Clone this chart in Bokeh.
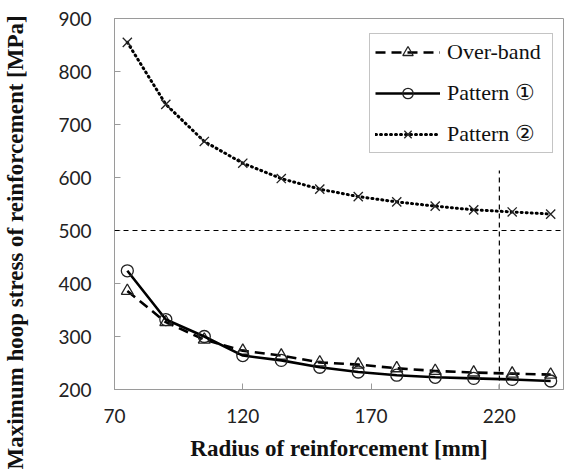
from bokeh.plotting import figure
from bokeh.models import Span, Legend, LegendItem, Title, Range1d, FixedTicker
from bokeh.embed import file_html
from bokeh.resources import INLINE

radius = [75, 90, 105, 120, 135, 150, 165, 180, 195, 210, 225, 240]
over_band = [386, 327, 294, 273, 264, 251, 247, 240, 235, 232, 230, 228]
pattern1 = [424, 332, 300, 264, 255, 242, 233, 227, 223, 221, 219, 216]
pattern2 = [855, 738, 668, 627, 598, 578, 564, 554, 546, 539, 535, 531]

x_ticks = [70, 120, 170, 220]
y_ticks = [200, 300, 400, 500, 600, 700, 800, 900]
limit_stress = 500
limit_radius = 220
limit_radius_top = 613

p = figure(width=564, height=474, output_backend="svg", toolbar_location=None,
           x_range=Range1d(70, 245), y_range=Range1d(200, 900),
           min_border_left=110, min_border_right=1, min_border_top=18, min_border_bottom=85)
p.grid.visible = False
p.outline_line_color = "#9a9a9a"
p.outline_line_width = 1
p.background_fill_color = "white"
p.border_fill_color = "white"

for ax in (p.xaxis[0], p.yaxis[0]):
    ax.axis_line_color = "#9a9a9a"
    ax.major_tick_line_color = "#9a9a9a"
    ax.major_tick_in = 6
    ax.major_tick_out = 0
    ax.minor_tick_line_color = None
    ax.major_label_text_font = "Lato"
    ax.major_label_text_font_size = "19px"
    ax.major_label_text_color = "#222222"

p.xaxis.ticker = FixedTicker(ticks=x_ticks)
p.yaxis.ticker = FixedTicker(ticks=y_ticks)
p.xaxis.major_label_standoff = 19
p.yaxis.major_label_standoff = 23
p.xaxis.axis_label = "Radius of reinforcement [mm]"
p.xaxis.axis_label_text_font = "Liberation Serif"
p.xaxis.axis_label_text_font_style = "bold"
p.xaxis.axis_label_text_font_size = "23px"
p.xaxis.axis_label_text_color = "#111111"
p.xaxis.axis_label_standoff = 10

# spacer label so that the y title sits at the outer edge
p.yaxis.axis_label = "\u00a0"
p.yaxis.axis_label_text_font_size = "2px"
p.yaxis.axis_label_standoff = 23

p.add_layout(Title(text="Maximum  hoop stress of reinforcement [MPa]", align="left",
                   offset=-80, standoff=0, vertical_align="bottom",
                   text_font="Liberation Serif", text_font_style="bold",
                   text_font_size="23px", text_color="#111111"), "left")

# reference lines
p.add_layout(Span(location=limit_stress, dimension="width", line_color="black",
                  line_width=1.2, line_dash="5 4"))
p.segment(x0=[limit_radius], y0=[200], x1=[limit_radius], y1=[limit_radius_top],
          line_color="black", line_width=1.2, line_dash="5 4")

lw = 2.6
r_ob_line = p.line(radius, over_band, line_color="black", line_width=lw, line_dash="10 6")
r_ob_mk = p.scatter(radius, over_band, marker="triangle", size=12, fill_color=None,
                    line_color="#222222", line_width=1.3)
r_p1_line = p.line(radius, pattern1, line_color="black", line_width=lw)
r_p1_mk = p.scatter(radius, pattern1, marker="circle", size=12, fill_color=None,
                    line_color="#222222", line_width=1.3)
r_p2_line = p.line(radius, pattern2, line_color="black", line_width=lw + 0.4,
                   line_dash="1 4", line_cap="round")
r_p2_mk = p.scatter(radius, pattern2, marker="x", size=13,
                    line_color="#222222", line_width=1.3)

legend = Legend(items=[
    LegendItem(label="Over-band", renderers=[r_ob_line, r_ob_mk]),
    LegendItem(label="Pattern \u2460", renderers=[r_p1_line, r_p1_mk]),
    LegendItem(label="Pattern \u2461", renderers=[r_p2_line, r_p2_mk]),
], location=(255, 236))
legend.label_text_font = "Liberation Serif"
legend.label_text_font_size = "22px"
legend.label_text_color = "#111111"
legend.glyph_width = 65
legend.glyph_height = 26
legend.label_height = 26
legend.label_width = 100
legend.label_standoff = 7
legend.spacing = 15
legend.padding = 5
legend.margin = 0
legend.border_line_color = "#8a8a8a"
legend.border_line_width = 1
legend.background_fill_color = "white"
legend.background_fill_alpha = 1
p.add_layout(legend, "center")

open("out.html", "w").write(file_html(p, INLINE))
